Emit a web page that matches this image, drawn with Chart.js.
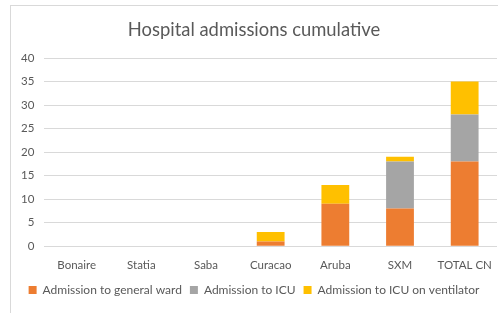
<!DOCTYPE html>
<html>
<head>
<meta charset="utf-8">
<script src="https://cdn.jsdelivr.net/npm/chart.js@4"></script>
<style>
  html, body { margin: 0; padding: 0; background: #fff; overflow: hidden; }
  #box {
    position: absolute; left: 10px; top: 5px;
    width: 500px; height: 310px;
    border: 1px solid #d9d9d9; background: #fff;
  }
  #wrap { position: absolute; left: 0; top: 0; width: 486px; height: 302px; }
</style>
</head>
<body>
<div id="box"><div id="wrap"><canvas id="grafico"></canvas></div></div>
<script>
const categorias = ['Bonaire', 'Statia', 'Saba', 'Curacao', 'Aruba', 'SXM', 'TOTAL CN'];
const salaGeneral = [0, 0, 0, 1, 9, 8, 18];
const uci = [0, 0, 0, 0, 0, 10, 10];
const uciVentilador = [0, 0, 0, 2, 4, 1, 7];
const ticksY = [0, 5, 10, 15, 20, 25, 30, 35, 40];

const fuente = 'Lato, "Open Sans", sans-serif';
const gris = '#595959';

const ctx = document.getElementById('grafico').getContext('2d');
new Chart(ctx, {
    type: 'bar',
    data: {
        labels: categorias,
        datasets: [
            { label: 'Admission to general ward', data: salaGeneral, backgroundColor: '#ED7D31' },
            { label: 'Admission to ICU', data: uci, backgroundColor: '#A5A5A5' },
            { label: 'Admission to ICU on ventilator', data: uciVentilador, backgroundColor: '#FFC000' }
        ]
    },
    options: {
        responsive: true,
        maintainAspectRatio: false,
        animation: false,
        datasets: { bar: { barPercentage: 0.43, categoryPercentage: 1 } },
        layout: { padding: { left: 0, right: 0, top: 9, bottom: 2 } },
        scales: {
            x: {
                stacked: true,
                grid: { display: false },
                border: { display: false },
                ticks: { color: gris, font: { family: fuente, size: 11.5 }, padding: 4 }
            },
            y: {
                stacked: true,
                min: 0,
                max: 40,
                afterBuildTicks: axis => { axis.ticks = ticksY.map(v => ({ value: v })); },
                grid: { color: '#d9d9d9', drawTicks: false },
                border: { display: false },
                ticks: { color: gris, font: { family: fuente, size: 11.5 }, padding: 10 }
            }
        },
        plugins: {
            title: {
                display: true,
                text: 'Hospital admissions cumulative',
                color: gris,
                font: { family: fuente, size: 18.4, weight: 'normal' },
                padding: { top: 4, bottom: 17 }
            },
            legend: {
                position: 'bottom',
                labels: {
                    boxWidth: 8,
                    boxHeight: 8,
                    padding: 8,
                    color: gris,
                    font: { family: fuente, size: 12 }
                }
            },
            tooltip: { enabled: false }
        }
    }
});
</script>
</body>
</html>
